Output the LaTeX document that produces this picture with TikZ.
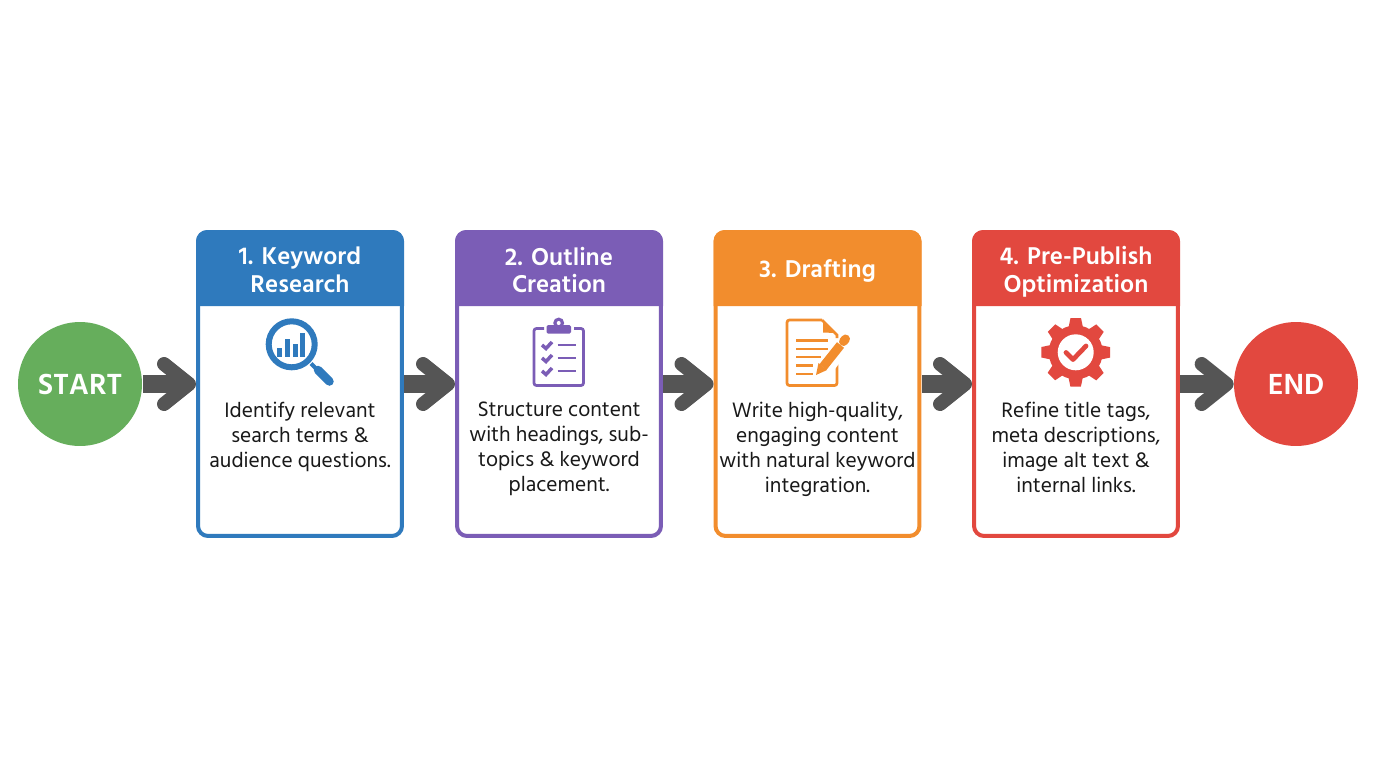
\documentclass[tikz,border=0pt]{standalone}
\usepackage{fontspec}
\setmainfont{Hind Madurai}
\usetikzlibrary{arrows.meta}
\definecolor{stepblue}{HTML}{2F7ABD}
\definecolor{steppurple}{HTML}{7B5DB6}
\definecolor{steporange}{HTML}{F28D2D}
\definecolor{stepred}{HTML}{E2483F}
\definecolor{startgreen}{HTML}{66AE5C}
\definecolor{arrowgray}{HTML}{555555}
\tikzset{
  endpoint/.style={circle, minimum size=2.48cm, inner sep=0pt, text=white, font=\bfseries\fontsize{17}{19}\selectfont},
  stepbox/.style={draw=#1, line width=0.08cm, fill=white, rounded corners=0.2cm, minimum width=4.08cm, minimum height=6.08cm, inner sep=0pt},
  steptitle/.style={text=white, align=center, font=\bfseries\fontsize{14.2}{15.9}\selectfont},
  steptext/.style={text=black!90, align=center, anchor=north, inner sep=0pt, font=\fontsize{12.2}{14.2}\selectfont},
  flowarrow/.style={arrowgray, line width=0.36cm, shorten <=0.01cm, -{Straight Barb[length=0.5cm, width=0.8cm, line width=0.28cm, round]}}
}
\begin{document}
\begin{tikzpicture}[x=0.02cm, y=-0.02cm]
  \useasboundingbox (0,0) rectangle (1376,768);

  % start and end
  \node[endpoint, fill=startgreen] (start) at (80,384) {START};
  \node[endpoint, fill=stepred] (end) at (1296,384) {END};

  % the four boxes with their coloured heads
  \foreach \i/\cx/\col in {1/300/stepblue, 2/559/steppurple, 3/817.5/steporange, 4/1076/stepred} {
    \node[stepbox=\col] (box\i) at (\cx,384) {};
    \fill[\col] (\cx-104,306) {[rounded corners=0.22cm] -- (\cx-104,230) -- (\cx+104,230)} -- (\cx+104,306) -- cycle;
  }

  % titles
  \node[steptitle] (title1) at (300,270) {1. Keyword\\Research};
  \node[steptitle] (title2) at (559,270) {2. Outline\\Creation};
  \node[steptitle] (title3) at (817.5,271) {3. Drafting};
  \node[steptitle] (title4) at (1076,272) {4. Pre-Publish\\Optimization};

  % body texts
  \node[steptext] (text1) at (300,402) {Identify relevant\\search terms \&\\audience questions.};
  \node[steptext] (text2) at (559,402) {Structure content\\with headings, sub-\\topics \& keyword\\placement.};
  \node[steptext] (text3) at (817.5,402) {Write high-quality,\\engaging content\\with natural keyword\\integration.};
  \node[steptext] (text4) at (1076,402) {Refine title tags,\\meta descriptions,\\image alt text \&\\internal links.};

  % arrows
  \draw[flowarrow] (start) -- (box1);
  \draw[flowarrow] (box1) -- (box2);
  \draw[flowarrow] (box2) -- (box3);
  \draw[flowarrow] (box3) -- (box4);
  \draw[flowarrow] (box4) -- (end);

  % magnifier
  \draw[stepblue, line width=0.12cm] (291.7,344.3) circle (23);
  \fill[stepblue] (277.3,348) rectangle (282.3,357);
  \fill[stepblue] (285,339) rectangle (290,357);
  \fill[stepblue] (292.7,344) rectangle (297.7,357);
  \fill[stepblue] (300.3,332.7) rectangle (305.3,357);
  \draw[stepblue, line width=0.08cm] (311,363.5) -- (318,370.5);
  \draw[stepblue, line width=0.17cm, line cap=round] (318,370) -- (329.5,381.5);

  % clipboard
  \draw[steppurple, line width=0.055cm, rounded corners=0.05cm] (544,328.5) -- (534,328.5) -- (534,385.5) -- (583.5,385.5) -- (583.5,328.5) -- (574,328.5);
  \fill[steppurple, rounded corners=0.03cm] (546.5,333.5) -- (546.5,325) -- (571,325) -- (571,333.5) -- cycle;
  \fill[steppurple] (558.7,323) circle (5.5);
  \fill[white] (558.7,323) circle (2);
  \foreach \ry in {345,358,371} {
    \draw[steppurple, line width=0.07cm] (542,\ry) -- (546,\ry+3.5) -- (552,\ry-3);
    \draw[steppurple, line width=0.05cm] (557.5,\ry) -- (576,\ry);
  }

  % document and pencil
  \draw[steporange, line width=0.055cm, rounded corners=0.05cm] (837,364) -- (837,385.5) -- (787,385.5) -- (787,320) -- (822,320);
  \draw[steporange, line width=0.055cm] (822,320) -- (837,335) -- (837,338);
  \fill[steporange] (823,322) -- (823,332.5) -- (835,333) -- cycle;
  \foreach \ly/\lx in {340.5/828, 349/828, 357/821, 365.5/813, 374/813} {
    \draw[steporange, line width=0.05cm] (796,\ly) -- (\lx,\ly);
  }
  \draw[white, line width=0.3cm] (820,376) -- (848,340);
  \draw[steporange, line width=0.18cm] (823,367) -- (840.5,345);
  \draw[steporange, line width=0.18cm, line cap=round] (843.5,341.5) -- (845.5,339);
  \fill[steporange] (816,375) -- (818.5,363) -- (827,370) -- cycle;

  % gear
  \fill[stepred] (1075.7,352.3) circle (27);
  \foreach \a in {0,45,...,315} {
    \fill[stepred, rotate around={\a:(1075.7,352.3)}] (1068,330) -- (1070.5,318) -- (1081,318) -- (1083.5,330) -- cycle;
  }
  \fill[white] (1075.7,352.3) circle (18);
  \draw[stepred, line width=0.095cm, line cap=round, line join=round] (1066,352.5) -- (1073,359.5) -- (1086,346);
\end{tikzpicture}
\end{document}
